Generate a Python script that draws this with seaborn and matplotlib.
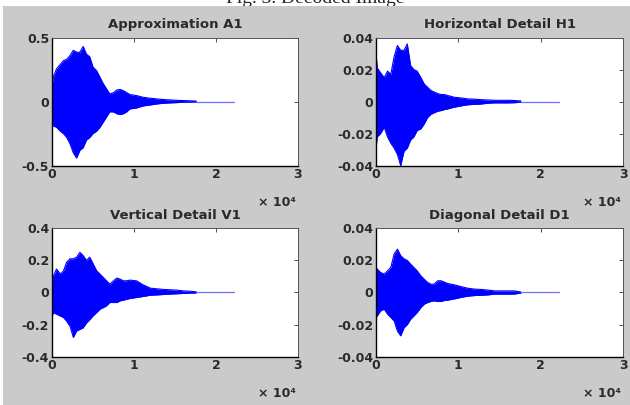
import numpy as np
import pandas as pd
import matplotlib
matplotlib.use('Agg')
import matplotlib.pyplot as plt
import seaborn as sns

sample_index = [0, 150, 550, 1000, 1400, 1800, 2200, 2600, 3000, 3400, 3800, 4200,
                4600, 5000, 5450, 5850, 6250, 6650, 7050, 7500, 7900, 8300, 8700,
                9100, 9500, 10300, 11100, 12000, 12800, 13600, 14400, 15200, 16000,
                16800, 17600]
tail_x = [17600, 22250]

a1_upper = [0.12, 0.19, 0.255, 0.29, 0.32, 0.33, 0.36, 0.40, 0.385, 0.385, 0.43, 0.37,
            0.35, 0.27, 0.24, 0.19, 0.14, 0.10, 0.06, 0.07, 0.09, 0.095, 0.085,
            0.07, 0.055, 0.047, 0.034, 0.026, 0.021, 0.016, 0.013, 0.010, 0.008,
            0.006, 0.004]
a1_lower = [-0.15, -0.19, -0.20, -0.23, -0.25, -0.28, -0.33, -0.40, -0.44, -0.38, -0.36, -0.30,
            -0.28, -0.25, -0.23, -0.20, -0.16, -0.12, -0.08, -0.08, -0.095, -0.10, -0.095,
            -0.08, -0.057, -0.05, -0.034, -0.026, -0.018, -0.013, -0.010, -0.008, -0.005,
            -0.004, -0.003]

h1_upper = [0.030, 0.021, 0.018, 0.015, 0.019, 0.017, 0.028, 0.035, 0.032, 0.032, 0.036, 0.0225,
            0.020, 0.019, 0.015, 0.011, 0.009, 0.007, 0.006, 0.005, 0.0044, 0.0044, 0.0038,
            0.0033, 0.0027, 0.0023, 0.0017, 0.0015, 0.0012, 0.001, 0.0008, 0.0008, 0.0008,
            0.0007, 0.0004]
h1_lower = [-0.029, -0.022, -0.020, -0.016, -0.022, -0.026, -0.029, -0.033, -0.040, -0.031, -0.029, -0.024,
            -0.022, -0.018, -0.017, -0.014, -0.010, -0.008, -0.007, -0.006, -0.0056, -0.005, -0.0046,
            -0.004, -0.0035, -0.0027, -0.002, -0.0017, -0.0015, -0.001, -0.0008, -0.0008, -0.0008,
            -0.0007, -0.0004]

v1_upper = [0.115, 0.10, 0.146, 0.115, 0.135, 0.19, 0.21, 0.21, 0.22, 0.25, 0.23, 0.20,
            0.22, 0.18, 0.135, 0.115, 0.094, 0.073, 0.052, 0.073, 0.09, 0.083, 0.073,
            0.073, 0.077, 0.073, 0.048, 0.027, 0.023, 0.019, 0.017, 0.015, 0.010,
            0.008, 0.004]
v1_lower = [-0.156, -0.125, -0.135, -0.146, -0.156, -0.18, -0.21, -0.28, -0.24, -0.23, -0.22, -0.19,
            -0.17, -0.146, -0.125, -0.104, -0.094, -0.083, -0.0625, -0.0625, -0.0625, -0.052, -0.048,
            -0.042, -0.0375, -0.031, -0.025, -0.017, -0.015, -0.0125, -0.010, -0.008, -0.006,
            -0.004, -0.003]

d1_upper = [0.0156, 0.0146, 0.0125, 0.0115, 0.0135, 0.0156, 0.024, 0.027, 0.023, 0.021, 0.020, 0.0177,
            0.0156, 0.0135, 0.0104, 0.0083, 0.0063, 0.0052, 0.0052, 0.0073, 0.0073, 0.0065, 0.0056,
            0.0052, 0.0048, 0.0037, 0.0027, 0.0021, 0.0019, 0.0015, 0.001, 0.001, 0.001,
            0.001, 0.0003]
d1_lower = [-0.0156, -0.0146, -0.0115, -0.0104, -0.0135, -0.0156, -0.0177, -0.024, -0.027, -0.022, -0.020, -0.0167,
            -0.0146, -0.0125, -0.0094, -0.0073, -0.0063, -0.0056, -0.0052, -0.0056, -0.0056, -0.005, -0.0048,
            -0.0044, -0.004, -0.0031, -0.0023, -0.0019, -0.0017, -0.0015, -0.001, -0.001, -0.001,
            -0.001, -0.0003]

titles = ['Approximation A1', 'Horizontal Detail H1', 'Vertical Detail V1', 'Diagonal Detail D1']
x_ticks = [0, 10000, 20000, 30000]
x_tick_labels = ['0', '1', '2', '3']
y_ticks_a1 = [-0.5, 0, 0.5]
y_labels_a1 = ['-0.5', '0', '0.5']
y_ticks_v1 = [-0.4, -0.2, 0, 0.2, 0.4]
y_labels_v1 = ['-0.4', '-0.2', '0', '0.2', '0.4']
y_ticks_detail = [-0.04, -0.02, 0, 0.02, 0.04]
y_labels_detail = ['-0.04', '-0.02', '0', '0.02', '0.04']

sns.set_theme(style='white')
plt.rcParams['font.family'] = ['DejaVu Sans']
plt.rcParams['axes.unicode_minus'] = False

fig = plt.figure(figsize=(6.3, 4.05), dpi=100, facecolor='white')

# caption of the page, mostly hidden behind the grey figure area
fig.text(0.50, 1 - 3 / 405, 'Fig. 3. Decoded Image', ha='center', va='baseline',
         fontsize=14, family='Liberation Serif', color='#222222', zorder=0)
grey = plt.Rectangle((3 / 630, 0), 1, (405 - 6) / 405, transform=fig.transFigure,
                     facecolor='#cacaca', edgecolor='none', zorder=0.5)
fig.patches.append(grey)

positions = [[52 / 630, 0.5909, 246 / 630, 0.3165],
             [376 / 630, 0.5909, 247 / 630, 0.3165],
             [52 / 630, 0.1193, 246 / 630, 0.317],
             [376 / 630, 0.1193, 247 / 630, 0.317]]
panels = [(a1_upper, a1_lower, (-0.5, 0.5), y_ticks_a1, y_labels_a1),
          (h1_upper, h1_lower, (-0.04, 0.04), y_ticks_detail, y_labels_detail),
          (v1_upper, v1_lower, (-0.4, 0.4), y_ticks_v1, y_labels_v1),
          (d1_upper, d1_lower, (-0.04, 0.04), y_ticks_detail, y_labels_detail)]

text_col = '#2a2a2a'


def draw_panel(ax, upper, lower, title, ylim, yticks, ylabels):
    df = pd.DataFrame({'n': sample_index, 'upper': upper, 'lower': lower})
    ax.fill_between(df['n'], df['lower'], df['upper'], color='blue', lw=0)
    sns.lineplot(data=df, x='n', y='upper', ax=ax, color='blue', lw=0.8)
    sns.lineplot(data=df, x='n', y='lower', ax=ax, color='blue', lw=0.8)
    sns.lineplot(x=tail_x, y=[0, 0], ax=ax, color='#6f6fff', lw=0.9)
    ax.set_xlim(0, 30000)
    ax.set_ylim(*ylim)
    ax.set_xticks(x_ticks)
    ax.set_xticklabels(x_tick_labels, fontweight='bold')
    ax.set_yticks(yticks)
    ax.set_yticklabels(ylabels, fontweight='bold')
    ax.set_xlabel('')
    ax.set_ylabel('')
    ax.set_title(title, fontsize=9.5, fontweight='bold', color=text_col, pad=6.5)
    ax.set_facecolor('white')
    ax.tick_params(direction='in', length=3, width=0.6, top=True, right=True,
                   labelsize=9, labelcolor=text_col, color='#333333', pad=2)
    for side in ['left', 'bottom']:
        ax.spines[side].set_color('black')
        ax.spines[side].set_linewidth(1.0)
    for side in ['top', 'right']:
        ax.spines[side].set_color('#555555')
        ax.spines[side].set_linewidth(0.7)
    ax.text(0.99, -0.285, '× 10⁴', transform=ax.transAxes, ha='right',
            va='center', fontsize=9, fontweight='bold', color=text_col)


for pos, title, (up, lo, ylim, yt, yl) in zip(positions, titles, panels):
    ax = fig.add_axes(pos)
    ax.set_zorder(1)
    draw_panel(ax, up, lo, title, ylim, yt, yl)

fig.savefig('out.png', dpi=100, facecolor=fig.get_facecolor())
